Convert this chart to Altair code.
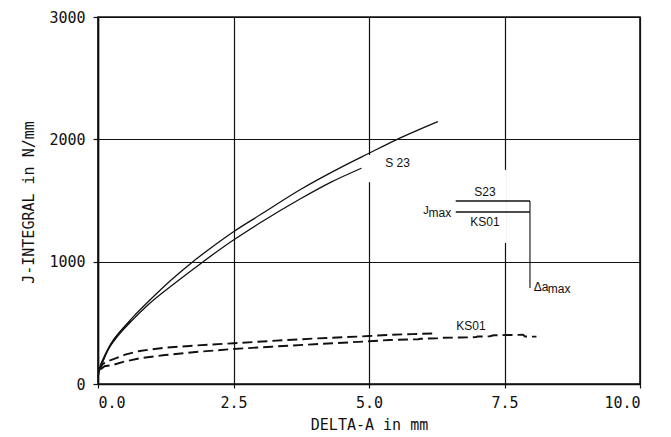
import altair as alt
import pandas as pd

# ---- data ----
# S23, upper solid curve
s23a_x = [0.0, 0.03, 0.1, 0.2, 0.3, 0.46, 0.64, 0.92, 1.35, 1.75, 2.0, 2.5, 3.0, 3.72, 4.5, 5.0, 5.52, 6.27]
s23a_y = [60, 130, 210, 300, 370, 455, 545, 670, 850, 1000, 1085, 1245, 1385, 1586, 1775, 1886, 2000, 2145]
# S23, lower solid curve
s23b_x = [0.0, 0.03, 0.1, 0.2, 0.3, 0.46, 0.64, 0.92, 1.5, 1.94, 2.5, 3.0, 3.72, 4.3, 4.86]
s23b_y = [50, 120, 195, 290, 355, 440, 525, 646, 852, 1000, 1177, 1320, 1510, 1650, 1764]
# S23, short initial strand (thick bundle near origin)
s23c_x = [0.05, 0.15, 0.3, 0.45, 0.6]
s23c_y = [140, 250, 365, 450, 515]
# KS01, upper dashed curve
ks01a_x = [0.02, 0.08, 0.15, 0.3, 0.5, 0.77, 1.2, 1.8, 2.5, 3.2, 4.0, 5.0, 5.38, 5.8, 6.25]
ks01a_y = [110, 160, 182, 205, 240, 270, 295, 315, 333, 352, 372, 392, 402, 408, 414]
# KS01, lower dashed curve (with small steps at the end)
ks01b_x = [0.05, 0.12, 0.27, 0.5, 0.77, 1.2, 1.8, 2.5, 3.2, 4.0, 5.0, 5.38, 5.91, 5.95, 6.25, 6.3, 6.68, 6.98, 7.0, 7.23, 7.3, 7.5, 7.84, 7.88, 8.09]
ks01b_y = [120, 145, 155, 185, 210, 235, 262, 286, 305, 325, 349, 360, 366, 370, 373, 377, 380, 383, 388, 390, 398, 400, 402, 388, 387]

# annotation (J_max / delta a_max key)
key_x = [6.6, 7.97]
key_s23_j = 1496
key_ks01_j = 1406
key_vert_x = 7.97
key_vert_bottom = 785

# grid-line breaks (white gaps in reference)
gap_x = [5.0, 7.5]
gap_lo = [1650, 1153]
gap_hi = [1872, 1750]

x_ticks = [0, 2.5, 5.0, 7.5, 10.0]
y_ticks = [0, 1000, 2000, 3000]

FONT = "DejaVu Sans Mono"
LFONT = "Liberation Sans"
INK = "#111111"


def df(xs, ys, name):
    return pd.DataFrame({"x": xs, "y": ys, "series": name})


solid = pd.concat([df(s23a_x, s23a_y, "S23a"), df(s23b_x, s23b_y, "S23b"), df(s23c_x, s23c_y, "S23c")])
dashed = pd.concat([df(ks01a_x, ks01a_y, "KS01a"), df(ks01b_x, ks01b_y, "KS01b")])

xscale = alt.Scale(domain=[0, 10], nice=False)
yscale = alt.Scale(domain=[0, 3000], nice=False)

xaxis = alt.Axis(values=x_ticks, format=".1f", title="DELTA-A in mm", grid=True,
                 gridColor=INK, gridWidth=1.2, gridOpacity=1, domainColor=INK, domainWidth=1.6,
                 tickColor=INK, tickSize=4, tickWidth=1.2, labelFont=FONT, labelFontSize=15,
                 labelColor=INK, labelPadding=7, titleFont=FONT, titleFontSize=15,
                 titleFontWeight="normal", titleColor=INK, titleBaseline="middle", titleY=40)
yaxis = alt.Axis(values=y_ticks, format="d", title="J-INTEGRAL in N/mm", grid=True,
                 gridColor=INK, gridWidth=1.2, gridOpacity=1, domainColor=INK, domainWidth=1.6,
                 tickColor=INK, tickSize=5, tickWidth=1.2, labelFont=FONT, labelFontSize=15,
                 labelColor=INK, labelPadding=8, titleFont=FONT, titleFontSize=15,
                 titleFontWeight="normal", titleColor=INK, titleAngle=270, titleBaseline="middle",
                 titleAlign="center", titleX=-70, titleY=185)

gaps = pd.DataFrame({"x": gap_x, "lo": gap_lo, "hi": gap_hi})
gap_layer = alt.Chart(gaps).mark_rule(color="white", strokeWidth=4).encode(
    x=alt.X("x:Q", scale=xscale, axis=xaxis),
    y=alt.Y("lo:Q", scale=yscale, axis=yaxis),
    y2="hi:Q",
)

solid_layer = alt.Chart(solid).mark_line(color=INK, strokeWidth=1.3, interpolate="monotone").encode(
    x=alt.X("x:Q", scale=xscale), y=alt.Y("y:Q", scale=yscale), detail="series:N", order="x:Q")

dashed_layer = alt.Chart(dashed).mark_line(color=INK, strokeWidth=1.9, strokeDash=[10, 5],
                                           interpolate="linear").encode(
    x=alt.X("x:Q", scale=xscale), y=alt.Y("y:Q", scale=yscale), detail="series:N", order="x:Q")

key_h = pd.DataFrame({"x": [key_x[0], key_x[0]], "x2": [key_x[1], key_x[1]],
                      "y": [key_s23_j, key_ks01_j]})
key_h_layer = alt.Chart(key_h).mark_rule(color=INK, strokeWidth=1.3).encode(
    x=alt.X("x:Q", scale=xscale), x2="x2:Q", y=alt.Y("y:Q", scale=yscale))
key_v = pd.DataFrame({"x": [key_vert_x], "y": [key_s23_j], "y2": [key_vert_bottom]})
key_v_layer = alt.Chart(key_v).mark_rule(color=INK, strokeWidth=1.1).encode(
    x=alt.X("x:Q", scale=xscale), y=alt.Y("y:Q", scale=yscale), y2="y2:Q")

labels = pd.DataFrame({
    "x": [5.3, 6.61, 7.14, 7.14],
    "y": [1807, 474, 1572, 1327],
    "t": ["S 23", "KS01", "S23", "KS01"],
})
label_c_layer = alt.Chart(labels.iloc[2:]).mark_text(font=LFONT, fontSize=12, color=INK, align="center",
                                                     baseline="middle").encode(
    x=alt.X("x:Q", scale=xscale), y=alt.Y("y:Q", scale=yscale), text="t:N")
label_l_layer = alt.Chart(labels.iloc[:2]).mark_text(font=LFONT, fontSize=12, color=INK, align="left",
                                                     baseline="middle").encode(
    x=alt.X("x:Q", scale=xscale), y=alt.Y("y:Q", scale=yscale), text="t:N")

sym = pd.DataFrame({
    "x": [6.0, 6.1, 8.04, 8.3],
    "y": [1418, 1394, 796, 778],
    "t": ["J", "max", "Δa", "max"],
    "s": [11, 12, 12, 12],
})
sym_layer = alt.Chart(sym).mark_text(font=LFONT, color=INK, align="left", baseline="middle").encode(
    x=alt.X("x:Q", scale=xscale), y=alt.Y("y:Q", scale=yscale), text="t:N",
    size=alt.Size("s:Q", scale=None, legend=None))

chart = alt.layer(gap_layer, solid_layer, dashed_layer, key_h_layer, key_v_layer,
                  label_l_layer, label_c_layer, sym_layer).properties(
    width=542, height=367,
    padding={"left": 90, "top": 9, "right": 20, "bottom": 53},
    autosize=alt.AutoSizeParams(type="none"),
    background="white",
).configure_view(stroke=INK, strokeWidth=1.6)

chart.save("out.html", embed_options={"renderer": "svg", "actions": False})
